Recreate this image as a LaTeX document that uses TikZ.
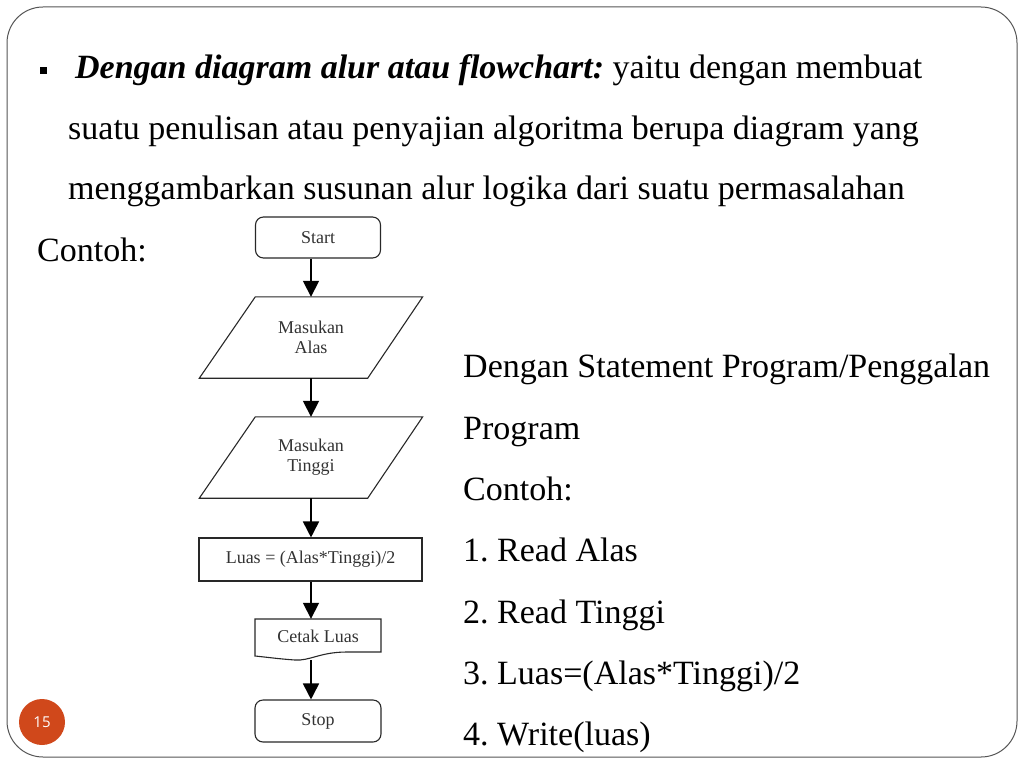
\documentclass[tikz,border=0pt]{standalone}
\usepackage{fontspec}
\setmainfont{Liberation Serif}
\newfontfamily\numfont{Open Sans}
\usetikzlibrary{calc,arrows.meta}
\definecolor{frameg}{RGB}{85,85,85}
\definecolor{pgorange}{RGB}{208,72,27}
\definecolor{fcline}{RGB}{40,40,40}
\definecolor{fctext}{RGB}{50,50,50}
\frenchspacing
\tikzset{
  txt/.style={font=\fontsize{34}{38}\selectfont, anchor=base west, inner sep=0pt, text=black},
  fcnode/.style={inner sep=0pt, font=\fontsize{18}{20}\selectfont, text=fctext, align=center},
  fcdraw/.style={draw=fcline, line width=1.1pt},
  arr/.style={draw=black, line width=1.7pt, -{Triangle[length=16pt,width=16pt]}},
}
\begin{document}
\begin{tikzpicture}[x=1pt,y=-1pt]
\useasboundingbox (0,0) rectangle (1024,768);
% frame
\draw[frameg, line width=1pt, rounded corners=36pt] (7,7) rectangle (1017,757);
% page number
\node[circle, fill=pgorange, minimum size=46pt, inner sep=0pt, text=white, font=\numfont\fontsize{15}{18}\selectfont] (pg) at (42,722) {15};
% bullet
\node[fill=black, minimum size=7pt, inner sep=0pt] (bul) at (43,70) {};
% text
\node[txt] (t1) at (75,78) {\textbf{\textit{Dengan diagram alur atau flowchart:}} yaitu dengan membuat};
\node[txt] (t2) at (68,139) {suatu penulisan atau penyajian algoritma berupa diagram yang};
\node[txt] (t3) at (68,199) {menggambarkan susunan alur logika dari suatu permasalahan};
\node[txt] (t4) at (37,261) {Contoh:};
\node[txt] (r1) at (463,377) {Dengan Statement Program/Penggalan};
\node[txt] (r2) at (463,439) {Program};
\node[txt] (r3) at (463,500) {Contoh:};
\node[txt] (r4) at (463,561) {1. Read Alas};
\node[txt] (r5) at (463,623) {2. Read Tinggi};
\node[txt] (r6) at (463,684) {3. Luas=(Alas*Tinggi)/2};
\node[txt] (r7) at (463,745) {4. Write(luas)};
% flowchart
\node[fcnode, fcdraw, rounded corners=8pt, minimum width=125pt, minimum height=41pt] (start) at (318,237.5) {Start};
\node[fcnode, minimum width=223pt, minimum height=81pt] (p1) at (311,337.5) {Masukan\\[0pt]Alas};
\draw[fcdraw] (p1.south west) -- ($(p1.north west)+(56,0)$) -- (p1.north east) -- ($(p1.south east)-(55,0)$) -- cycle;
\node[fcnode, minimum width=223pt, minimum height=81pt] (p2) at (311,457.5) {Masukan\\[0pt]Tinggi};
\draw[fcdraw] (p2.south west) -- ($(p2.north west)+(56,0)$) -- (p2.north east) -- ($(p2.south east)-(55,0)$) -- cycle;
\node[fcnode, fcdraw, minimum width=223pt, minimum height=43pt] (luas) at (310.5,559.5) {Luas = (Alas*Tinggi)/2};
\node[fcnode, minimum width=126pt, minimum height=34pt] (cetak) at (318,636) {Cetak Luas};
\draw[fcdraw] (255,619) -- (381,619) -- (381,652) -- (347,652) .. controls (320,652) and (310,661) .. (295,660) .. controls (280,659) and (265,657) .. (255,656) -- cycle;
\coordinate (cetakb) at (311,660);
\node[fcnode, fcdraw, rounded corners=8pt, minimum width=126pt, minimum height=42pt] (stop) at (318,721) {Stop};
% arrows
\draw[arr] (start.south -| p1.north) -- (p1.north);
\draw[arr] (p1.south) -- (p2.north);
\draw[arr] (p2.south) -- (luas.north -| p2.south);
\draw[arr] (luas.south -| p2.south) -- (cetak.north -| p2.south);
\draw[arr] (cetakb) -- (stop.north -| cetakb);
\end{tikzpicture}
\end{document}
